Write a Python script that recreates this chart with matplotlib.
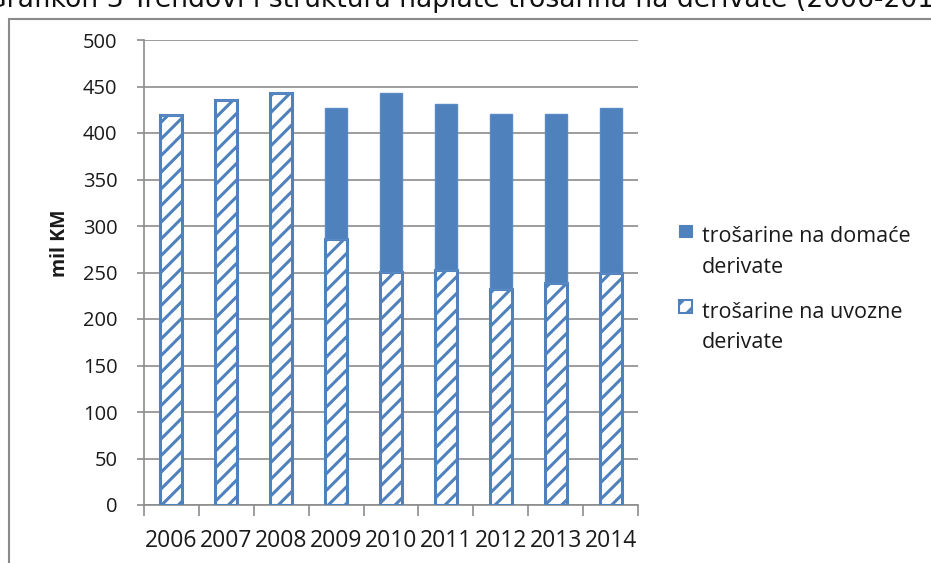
import matplotlib
matplotlib.use("Agg")
import matplotlib.pyplot as plt
from matplotlib.patches import Rectangle, Patch
from matplotlib.legend_handler import HandlerPatch
import numpy as np

years = ["2006", "2007", "2008", "2009", "2010", "2011", "2012", "2013", "2014"]
uvozne = [419, 436, 443, 286, 251, 253, 232, 239, 249]
domace = [0, 0, 0, 141, 192, 178, 188, 181, 178]

label_dom = "trošarine na domaće\nderivate"
label_uvo = "trošarine na uvozne\nderivate"
ylabel = "mil KM"
title = "Grafikon 3 Trendovi i struktura naplate trošarina na derivate (2006-2014)"

blue = "#4F81BD"
grid_gray = "#8C8C8C"
txt = "#1A1A1A"
FONT = ["Open Sans", "DejaVu Sans"]

plt.rcParams['hatch.color'] = blue
plt.rcParams['hatch.linewidth'] = 2.2

fig = plt.figure(figsize=(9.31, 5.63), dpi=100)
ax = fig.add_axes([144/931, 1-505/563, (638-144)/931, (505-40)/563])

x = np.arange(len(years))
w = 0.4
ax.bar(x, uvozne, width=w, color="white", edgecolor=blue, hatch="//",
       linewidth=2.2, zorder=3, label=label_uvo)
ax.bar(x, domace, width=w, bottom=uvozne, color=blue, edgecolor="#5A8AC6",
       linewidth=1, zorder=3, label=label_dom)

ax.set_xlim(-0.5, len(years)-0.5)
ax.set_ylim(0, 500)
ax.set_yticks(np.arange(0, 501, 50))
ax.yaxis.grid(True, color=grid_gray, linewidth=1.2, zorder=0)
ax.set_axisbelow(True)
for s in ["top", "right"]:
    ax.spines[s].set_visible(False)
for s in ["left", "bottom"]:
    ax.spines[s].set_color(grid_gray)
    ax.spines[s].set_linewidth(1.2)

ax.set_xticks(x)
ax.set_xticklabels(years, fontsize=16.5, family=FONT, color=txt)
ax.set_xticks(np.arange(-0.5, len(years), 1), minor=True)
ax.tick_params(axis="x", which="major", length=0, pad=17)
ax.tick_params(axis="x", which="minor", length=8, color=grid_gray, width=1.2)
ax.tick_params(axis="y", length=5, color=grid_gray, width=1.2, pad=14,
               labelsize=14.5, labelcolor=txt)
for t in ax.get_yticklabels():
    t.set_family(FONT)

fig.text(60/931, 1-243/563, ylabel, rotation=90, ha="center", va="center",
         fontsize=14, fontweight="bold", family=FONT, color=txt)

LFS = 15.5
LSP = 1.6
SQ = 9.0  # points
YC = 21.0  # points above last-line baseline


def top_square(legend, orig_handle, xdescent, ydescent, width, height, fontsize):
    return Rectangle((0, YC - SQ/2), SQ, SQ)


handles = [Patch(facecolor=blue, edgecolor=blue, linewidth=0.8, label=label_dom),
           Patch(facecolor="white", edgecolor=blue, hatch="//", linewidth=1.5, label=label_uvo)]
hmap = {h: HandlerPatch(patch_func=top_square) for h in handles}
leg = fig.legend(handles=handles, handler_map=hmap, loc="upper left",
                 bbox_to_anchor=(660/931, 1-207/563),
                 frameon=False, handlelength=SQ/LFS, handleheight=0.7,
                 handletextpad=0.45, labelspacing=1.11,
                 prop={"family": FONT, "size": LFS})
for t in leg.get_texts():
    t.set_linespacing(LSP)
    t.set_color(txt)

# border box
fig.patches.append(Rectangle((9/931, -0.02), 1.0, 1-19/563+0.02, transform=fig.transFigure,
                             fill=False, edgecolor="#8A8A8A", linewidth=1.5))

fig.text(-14/931, 1-7/563, title, ha="left", va="baseline", fontsize=19.2,
         family="DejaVu Sans", color="#111111")

fig.savefig("out.png", dpi=100)
